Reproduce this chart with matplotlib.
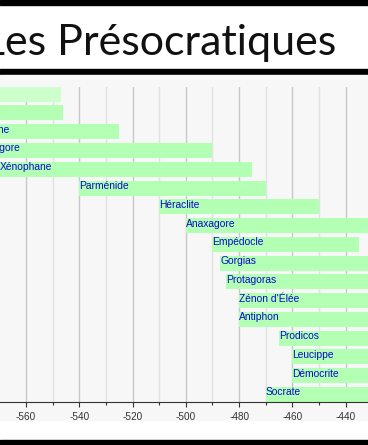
import matplotlib
matplotlib.use('Agg')
from matplotlib import pyplot as plt
from matplotlib.patches import Rectangle
from matplotlib.ticker import MultipleLocator

plt.rcParams['axes.unicode_minus'] = False

names = ['Thalès', 'Anaximandre', 'Anaximène', 'Pythagore', 'Xénophane', 'Parménide',
         'Héraclite', 'Anaxagore', 'Empédocle', 'Gorgias', 'Protagoras', "Zénon d'Élée",
         'Antiphon', 'Prodicos', 'Leucippe', 'Démocrite', 'Socrate']
starts = [-625, -610, -585, -580, -570, -540, -510, -500, -490, -487, -485, -480,
          -480, -465, -460, -460, -470]
ends = [-547, -546, -525, -490, -475, -470, -450, -428, -435, -380, -411, -430,
        -411, -395, -370, -370, -399]

W, H = 368, 445
fig = plt.figure(figsize=(W / 100, H / 100), dpi=100)
fig.patch.set_facecolor('white')

# frame: black bands and grey plot area
for y0, hh, c in [(0, 5, 'black'), (69, 5, 'black'), (440, 5, 'black'), (75, 345, '#f7f7f7')]:
    fig.patches.append(Rectangle((0, 1 - (y0 + hh) / H), 1, hh / H,
                                 transform=fig.transFigure, color=c, zorder=-1))

fig.text(336 / W, 1 - 55 / H, 'Les Présocratiques', ha='right', va='baseline',
         fontsize=31, family='Lato', weight='normal', color='#111111')

ax = fig.add_axes([0, 1 - 402 / H, 1, (402 - 86.7) / H])
ax.set_facecolor('none')
ax.set_zorder(1)

h = 0.8
for i, (n, s, e) in enumerate(zip(names, starts, ends)):
    col = '#ccffcc' if i == 0 else '#b3ffb3'
    ax.barh(i, e - s, left=s, height=h, color=col, zorder=2)
    ax.text(s, i + 0.05, n, ha='left', va='baseline', fontsize=7.4,
            family='Liberation Sans', color='#0a0ad0', zorder=3)

ax.set_xlim(-569.76, -431.62)
ax.set_ylim(len(names) - 1 + h / 2, -h / 2)

ax.xaxis.set_major_locator(MultipleLocator(20))
ax.xaxis.set_minor_locator(MultipleLocator(10))
ax.grid(which='major', axis='x', color='#c8c8c8', linewidth=1, zorder=1)
ax.grid(which='minor', axis='x', color='#e2e2e2', linewidth=1, zorder=1)
ax.set_axisbelow(True)

for side in ['top', 'left', 'right']:
    ax.spines[side].set_visible(False)
ax.spines['bottom'].set_color('#333333')
ax.spines['bottom'].set_linewidth(0.8)
ax.set_yticks([])
ax.tick_params(axis='x', which='major', length=3.6, width=0.8, color='#333333',
               pad=3.5, labelsize=7.2, labelcolor='#333333')
ax.tick_params(axis='x', which='minor', length=2.2, width=0.8, color='#333333')
for lab in ax.get_xticklabels():
    lab.set_family('Liberation Sans')

fig.savefig('out.png', dpi=100)
